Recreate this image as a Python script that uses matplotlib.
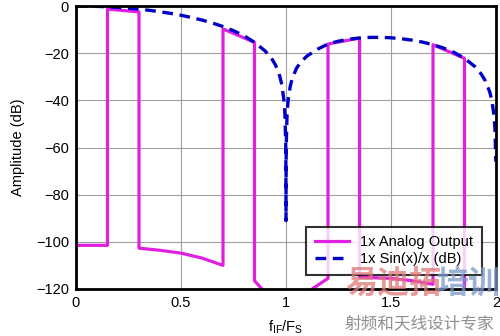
import matplotlib
matplotlib.use('Agg')
import matplotlib.pyplot as plt

plt.rcParams['font.family'] = ['Liberation Sans', 'DejaVu Sans']
plt.rcParams['mathtext.fontset'] = 'custom'
plt.rcParams['mathtext.rm'] = 'Liberation Sans'

# analog output
out_x = [0, 0.15, 0.15, 0.3, 0.3, 0.4, 0.5, 0.6, 0.7, 0.7, 0.85, 0.85, 0.9,
         1.1, 1.2, 1.2, 1.35, 1.35, 1.5, 1.6, 1.7, 1.7, 1.85, 1.85, 2.0]
out_y = [-101.5, -101.5, -1.3, -2.5, -102.7, -103.6, -104.8, -106.9, -110.0, -9.7,
         -15.4, -116.5, -121.5, -121.5, -115.5, -16.1, -13.6, -115.0, -115.5, -116.5,
         -118.0, -16.4, -22.2, -125, -125]

# sin(x)/x envelope in dB
sinc_x = [0, 0.05, 0.1, 0.15, 0.2, 0.25, 0.3, 0.35, 0.4, 0.45, 0.5, 0.55, 0.6, 0.65,
          0.7, 0.75, 0.8, 0.85, 0.9, 0.93, 0.95, 0.97, 0.98, 0.99, 0.995, 0.999,
          0.9999, 1.0, 1.0001, 1.001, 1.005, 1.01, 1.02, 1.03, 1.05, 1.07, 1.1, 1.15,
          1.2, 1.25, 1.3, 1.35, 1.4, 1.45, 1.5, 1.55, 1.6, 1.65, 1.7, 1.75, 1.8, 1.85,
          1.9, 1.93, 1.95, 1.97, 1.98, 1.99, 1.995, 1.999]
sinc_y = [0, -0.04, -0.14, -0.32, -0.58, -0.91, -1.32, -1.82, -2.42, -3.11, -3.92,
          -4.86, -5.94, -7.2, -8.69, -10.46, -12.6, -15.4, -19.0, -22.0, -25.0, -29.7,
          -33.3, -39.9, -46.0, -60.0, -80.0, -91.0, -80.0, -60.0, -46.0, -40.0, -34.1,
          -30.6, -26.4, -23.8, -21.2, -18.3, -16.1, -14.9, -14.06, -13.55, -13.3,
          -13.28, -13.46, -13.86, -14.46, -15.29, -16.39, -17.81, -19.66, -22.15,
          -25.72, -28.9, -31.86, -36.4, -39.9, -46.0, -52.0, -66.0]

xticks = [0, 0.5, 1, 1.5, 2]
xticklabels = ['0', '0.5', '1', '1.5', '2']
yticks = [0, -20, -40, -60, -80, -100, -120]

fig = plt.figure(figsize=(5, 3.36), dpi=100)
ax = fig.add_axes([0.152, 0.140, 0.84, 0.842])

ax.plot(out_x, out_y, color='#e020e0', lw=2.3, label='1x Analog Output', zorder=3)
ax.plot(sinc_x, sinc_y, color='#0000c8', lw=2.4, ls=(0, (3.2, 2.0)),
        label='1x Sin(x)/x (dB)', zorder=4)

ax.set_xlim(0, 2)
ax.set_ylim(-120, 0)
ax.set_xticks(xticks)
ax.set_xticklabels(xticklabels)
ax.set_yticks(yticks)
ax.grid(True, color='#a0a0a0', lw=0.8)
ax.tick_params(length=0, labelsize=10.5, pad=5)
for s in ax.spines.values():
    s.set_linewidth(2)
    s.set_zorder(5)

ax.set_xlabel(r'f$_{\mathrm{IF}}$/F$_{\mathrm{S}}$', fontsize=10.5, labelpad=6)
ax.set_ylabel('Amplitude (dB)', fontsize=10.5, labelpad=8)

leg = ax.legend(loc='lower right', bbox_to_anchor=(0.967, 0.049), borderaxespad=0,
                fontsize=10.5, frameon=True, fancybox=False, edgecolor='black',
                handlelength=2.3, borderpad=0.6, labelspacing=0.2)
leg.get_frame().set_linewidth(1.5)
leg.set_zorder(6)

# watermark
fig.text(0.69, 0.155, '易迪拓', family=['Noto Sans CJK SC', 'DejaVu Sans'],
         fontsize=23, weight='bold', color='#e07878', alpha=0.75, va='center')
fig.text(0.872, 0.155, '培训', family=['Noto Sans CJK SC', 'DejaVu Sans'],
         fontsize=23, weight='bold', color='#7898c8', alpha=0.75, va='center')
fig.text(0.69, 0.035, '射频和天线设计专家', family=['Noto Sans CJK SC', 'DejaVu Sans'],
         fontsize=12, color='#909090', va='center')

fig.savefig('out.png', dpi=100)
